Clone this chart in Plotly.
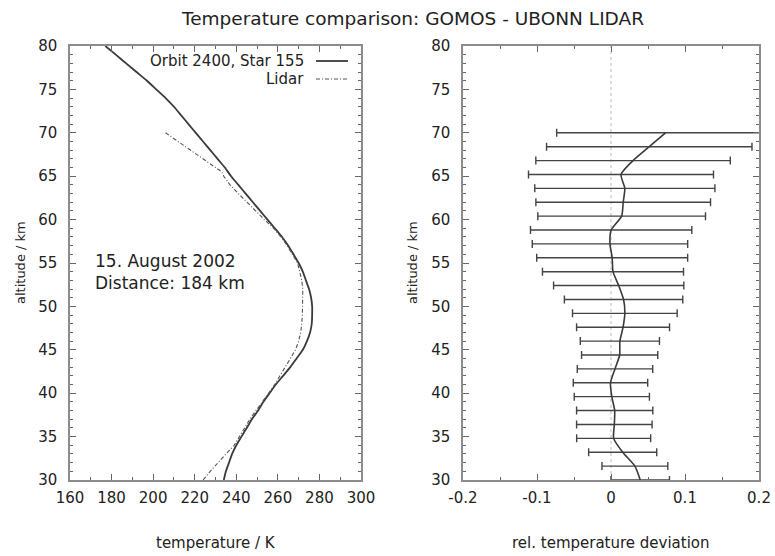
import plotly.graph_objects as go

# ---- data ----
gomos_alt = [80, 79, 78, 77, 76, 75, 74, 73, 72, 71, 70, 69, 68, 67, 66, 65, 64, 63, 62, 61,
             60, 59, 58, 57, 56, 55, 54, 53, 52, 51, 50, 49, 48, 47, 46, 45, 44, 43, 42, 41,
             40, 39, 38, 37, 36, 35, 34, 33, 32, 31, 30]
gomos_temp = [177, 182, 187, 192, 197, 201.5, 206, 210, 213.5, 217, 220.5, 224, 227.5, 231, 234.5, 237.5,
              241, 244.5, 248, 251.5, 255, 258.5, 262, 265, 267.5, 270, 272, 273.5, 275, 276,
              276.5, 276.5, 276.3, 275.5, 274, 272, 269, 266, 262.5, 259, 256, 253, 250.5, 247.5,
              245, 242.5, 240, 238, 236.5, 235, 234]

lidar_alt = [70, 69, 68, 67, 66, 65.5, 65, 64, 63, 62, 61, 60, 59, 58, 57, 56, 55, 54, 53, 52, 51,
             50, 49, 48, 47, 46, 45, 44, 43, 42, 41, 40, 39, 38, 37, 36, 35, 34, 33, 32, 31, 30]
lidar_temp = [206, 212, 218, 223.5, 229.5, 233, 234, 237, 241, 245, 249.5, 253.5, 258, 261.5,
              264.5, 267, 269.5, 270.5, 271.5, 272, 272, 272, 271.8, 271.5, 271, 270, 268.5,
              266, 263.5, 261, 258.5, 255.5, 252.5, 249.5, 246.5, 244, 241.5, 239, 235, 231,
              227.5, 224]

dev_alt = [70.0, 68.4, 66.8, 65.2, 63.6, 62.0, 60.4, 58.8, 57.2, 55.6, 54.0, 52.4, 50.8,
           49.2, 47.6, 46.0, 44.4, 42.8, 41.2, 39.6, 38.0, 36.4, 34.8, 33.2, 31.6, 30.0]
dev_val = [0.0736, 0.0517, 0.0298, 0.0135, 0.0187, 0.0165, 0.0144, 0.0002, -0.0014, 0.0016,
           0.0027, 0.0104, 0.017, 0.0187, 0.0163, 0.012, 0.0117, 0.0054, -0.0007, 0.0011,
           0.005, 0.0045, 0.0036, 0.0158, 0.0323, 0.0395]
dev_err = [0.147, 0.1388, 0.1314, 0.125, 0.1217, 0.118, 0.1133, 0.109, 0.105, 0.102,
           0.0953, 0.088, 0.080, 0.0707, 0.0628, 0.0535, 0.0515, 0.051, 0.0503, 0.0508,
           0.0515, 0.051, 0.050, 0.046, 0.0445, 0.0395]

temp_ticks = [160, 180, 200, 220, 240, 260, 280, 300]
dev_ticks = [-0.2, -0.1, 0, 0.1, 0.2]
dev_tick_text = ["-0.2", "-0.1", "0", "0.1", "0.2"]
alt_ticks = [30, 35, 40, 45, 50, 55, 60, 65, 70, 75, 80]

title_text = "Temperature comparison: GOMOS - UBONN LIDAR"
legend_names = ["Orbit 2400, Star 155", "Lidar"]
info_text = "15. August 2002<br>Distance: 184 km"

W, H = 775, 556
FONT = "DejaVu Sans, Verdana, sans-serif"
TXT = "#222222"
AXC = "#8c8c8c"
TICKC = "#666666"

fig = go.Figure()

fig.add_trace(go.Scatter(x=gomos_temp, y=gomos_alt, mode="lines", name=legend_names[0],
                         line=dict(color="#3a3a3a", width=1.8, shape="spline", smoothing=0.5),
                         xaxis="x", yaxis="y", showlegend=False))
fig.add_trace(go.Scatter(x=lidar_temp, y=lidar_alt, mode="lines", name=legend_names[1],
                         line=dict(color="#555555", width=1.1, dash="4px,2px,1px,2px"),
                         xaxis="x", yaxis="y", showlegend=False))
fig.add_trace(go.Scatter(x=dev_val, y=dev_alt, mode="lines", name="deviation",
                         line=dict(color="#3a3a3a", width=1.6, shape="spline", smoothing=0.6),
                         error_x=dict(type="data", array=dev_err, symmetric=True,
                                      color="#444444", thickness=1.4, width=4),
                         xaxis="x2", yaxis="y2", showlegend=False))

x1_dom = [70 / W, 361 / W]
x2_dom = [463 / W, 759 / W]
y_dom = [1 - 480 / H, 1 - 46 / H]

common = dict(showline=True, linecolor=AXC, linewidth=1.5, mirror="allticks",
              ticks="inside", ticklen=6, tickcolor=TICKC, tickwidth=1,
              showgrid=False, zeroline=False, automargin=False,
              tickfont=dict(family=FONT, size=15, color=TXT))

fig.update_layout(
    width=W, height=H,
    margin=dict(l=0, r=0, t=0, b=0),
    paper_bgcolor="white", plot_bgcolor="white",
    showlegend=False,
    xaxis=dict(domain=x1_dom, range=[160, 300], tickvals=temp_ticks, anchor="y",
               ticklabelstandoff=3,
               minor=dict(dtick=10, ticks="inside", ticklen=3, tickcolor=TICKC),
               **common),
    yaxis=dict(domain=y_dom, range=[30, 80], tickvals=alt_ticks, anchor="x",
               ticklabelstandoff=8,
               minor=dict(dtick=1, ticks="inside", ticklen=3, tickcolor=TICKC),
               **common),
    xaxis2=dict(domain=x2_dom, range=[-0.2, 0.2], tickvals=dev_ticks, ticktext=dev_tick_text,
                anchor="y2", ticklabelstandoff=3,
                minor=dict(dtick=0.05, ticks="inside", ticklen=3, tickcolor=TICKC),
                **common),
    yaxis2=dict(domain=y_dom, range=[30, 80], tickvals=alt_ticks, anchor="x2",
                ticklabelstandoff=8,
                minor=dict(dtick=1, ticks="inside", ticklen=3, tickcolor=TICKC),
                **common),
)

# zero reference line on the right panel
fig.add_shape(type="line", xref="x2", yref="y2 domain", x0=0, x1=0, y0=0, y1=1,
              line=dict(color="#bbbbbb", width=1, dash="dot"), layer="below")

def txt(text, x, y, size, xanchor="center", angle=0, align="center"):
    return dict(text=text, x=x / W, y=1 - y / H, xref="paper", yref="paper",
                showarrow=False, textangle=angle, align=align,
                font=dict(family=FONT, size=size, color=TXT),
                xanchor=xanchor, yanchor="middle")

ann = [
    txt(title_text, 412, 18, 18.5),
    txt("temperature / K", 216, 543, 15),
    txt("rel. temperature deviation", 611, 543, 15),
    txt("altitude / km", 21, 263, 13, angle=-90),
    txt("altitude / km", 413, 263, 13, angle=-90),
    txt(info_text, 93, 272, 17, xanchor="left", align="left"),
    # legend (text right-aligned, sample line to the right, as in gnuplot)
    txt(legend_names[0], 306, 61, 15, xanchor="right"),
    txt(legend_names[1], 306, 79, 15, xanchor="right"),
]
fig.update_layout(annotations=ann)

fig.add_shape(type="line", xref="paper", yref="paper", x0=316 / W, x1=348 / W,
              y0=1 - 61 / H, y1=1 - 61 / H, line=dict(color="#3a3a3a", width=1.8))
fig.add_shape(type="line", xref="paper", yref="paper", x0=316 / W, x1=348 / W,
              y0=1 - 79 / H, y1=1 - 79 / H,
              line=dict(color="#555555", width=1.1, dash="4px,2px,1px,2px"))

fig.write_html("out.html", config={"displayModeBar": False},
               post_script="document.body.style.margin='0px';document.body.style.overflow='hidden';")
